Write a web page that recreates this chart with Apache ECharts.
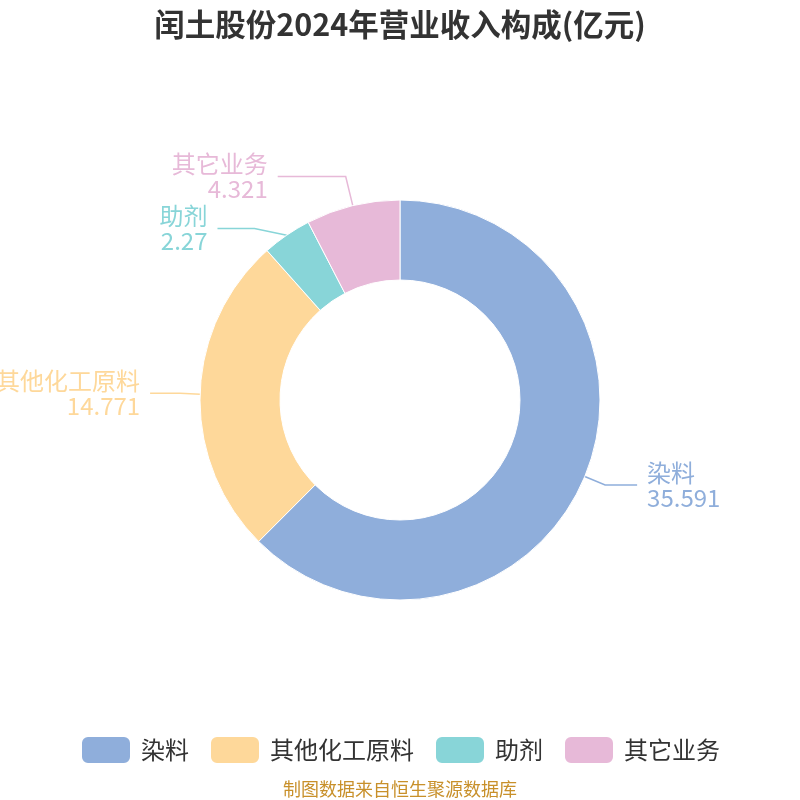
<!DOCTYPE html>
<html>
<head>
<meta charset="utf-8">
<script src="https://cdn.jsdelivr.net/npm/echarts@6/dist/echarts.min.js"></script>
<style>
  html, body { margin: 0; padding: 0; background: #fff; }
  #chart { width: 800px; height: 800px; }
</style>
</head>
<body>
<div id="chart"></div>
<script>
// 营业收入构成 (亿元)
const categories = ['染料', '其他化工原料', '助剂', '其它业务'];
const values = [35.591, 14.771, 2.27, 4.321];
const colors = ['#8faedb', '#fed89a', '#88d5d8', '#e7b9d8'];
// per-slice guide line lengths [length, length2]
const lineLens = [[22, 32], [30, 30], [30, 37], [30, 68]];

const chart = echarts.init(document.getElementById('chart'));

chart.setOption({
  color: colors,
  title: {
    text: '闰土股份2024年营业收入构成(亿元)',
    left: 'center',
    top: 4,
    textStyle: { fontSize: 30.5, fontWeight: 'bold', color: '#333', fontFamily: 'Noto Sans CJK SC' }
  },
  legend: {
    bottom: 30,
    left: 'center',
    itemWidth: 50,
    itemHeight: 28,
    itemGap: 20,
    icon: 'roundRect',
    textStyle: { fontSize: 24, color: '#333', fontFamily: 'Noto Sans CJK SC', padding: [0, 0, 0, 5] },
    data: categories
  },
  graphic: [{
    type: 'text',
    left: 'center',
    bottom: 2,
    style: {
      text: '制图数据来自恒生聚源数据库',
      fill: '#c8902a',
      fontSize: 18,
      fontFamily: 'Noto Sans CJK SC'
    }
  }],
  series: [{
    type: 'pie',
    center: ['50%', '50%'],
    radius: ['30%', '50%'],
    startAngle: 90,
    clockwise: true,
    avoidLabelOverlap: true,
    itemStyle: { borderColor: '#fff', borderWidth: 1 },
    label: {
      formatter: '{b}\n{c}',
      fontSize: 24,
      lineHeight: 25,
      color: 'inherit',
      overflow: 'none',
      distanceToLabelLine: 10,
      fontFamily: 'Noto Sans CJK SC'
    },
    labelLine: {
      length: 30,
      length2: 30,
      lineStyle: { width: 1.5 }
    },
    data: categories.map((name, i) => ({
      name: name,
      value: values[i],
      labelLine: { length: lineLens[i][0], length2: lineLens[i][1] }
    }))
  }]
});
</script>
</body>
</html>
